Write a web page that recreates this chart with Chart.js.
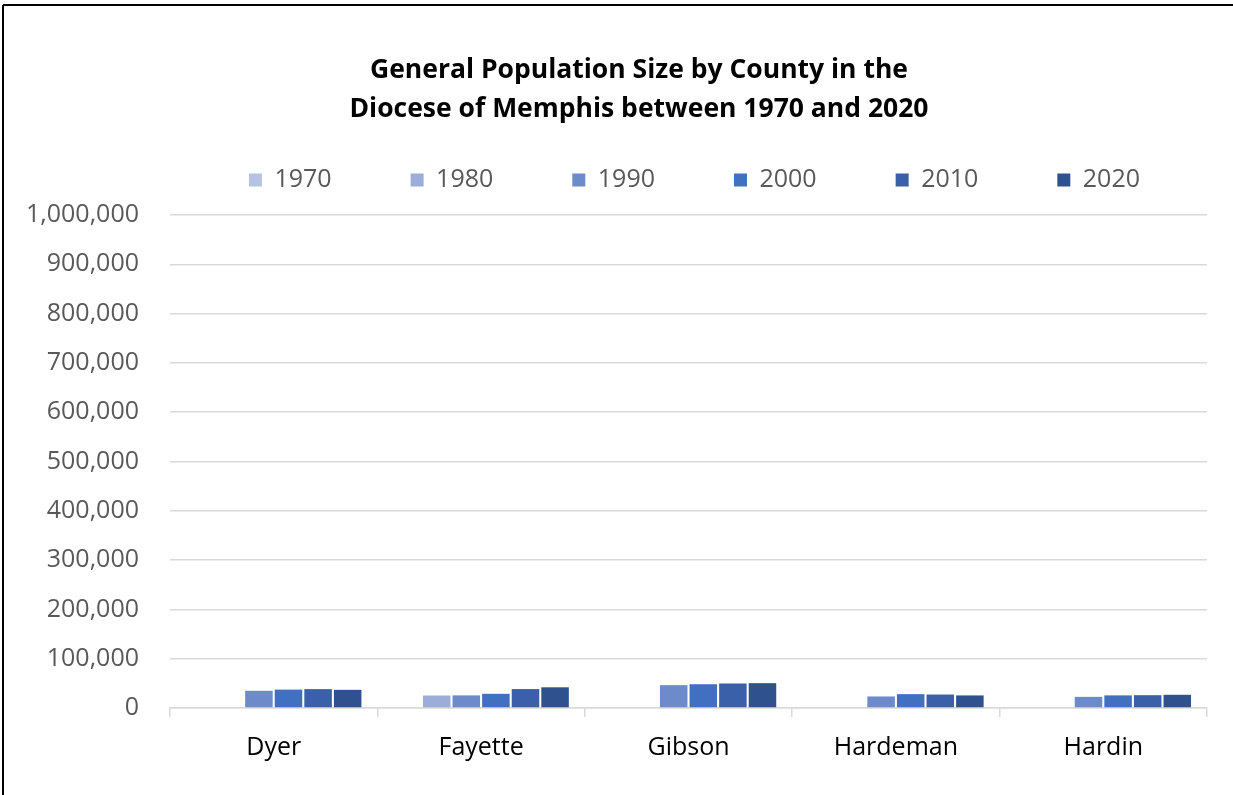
<!DOCTYPE html>
<html><head><meta charset="utf-8">
<script src="https://cdn.jsdelivr.net/npm/chart.js@4/dist/chart.umd.min.js"></script>
<style>html,body{margin:0;padding:0;background:#fff;}</style>
</head><body>
<canvas id="c" width="1233" height="795"></canvas>
<script>
const counties = ['Dyer', 'Fayette', 'Gibson', 'Hardeman', 'Hardin'];
const years = ['1970', '1980', '1990', '2000', '2010', '2020'];
const pop1970 = [null, null, null, null, null];
const pop1980 = [null, 25300, null, null, null];
const pop1990 = [34900, 25600, 46300, 23400, 22600];
const pop2000 = [37300, 28800, 48200, 28100, 25600];
const pop2010 = [38300, 38400, 49700, 27300, 26000];
const pop2020 = [36800, 42000, 50400, 25500, 26800];
const yearColors = ['#B7C3E3', '#9DADDA', '#6D8ACB', '#4270C0', '#3960A8', '#2F528F'];
const titleLines = ['General Population Size by County in the', 'Diocese of Memphis between 1970 and 2020'];

const series = [pop1970, pop1980, pop1990, pop2000, pop2010, pop2020];
const datasets = years.map((y, i) => ({
  label: y,
  data: series[i],
  backgroundColor: yearColors[i],
  borderWidth: 0,
  categoryPercentage: 0.856,
  barPercentage: 0.93
}));

const framePlugin = {
  id: 'frame',
  afterLayout(chart) {
    const t = chart.titleBlock;
    if (t) { t.left = 59; }
  },
  beforeDraw(chart) {
    const ctx = chart.ctx;
    ctx.save();
    ctx.fillStyle = '#fff';
    ctx.fillRect(0, 0, chart.width, chart.height);
    ctx.strokeStyle = '#000';
    ctx.lineWidth = 2;
    ctx.beginPath();
    ctx.moveTo(3, 5); ctx.lineTo(chart.width, 5);
    ctx.moveTo(3, 5); ctx.lineTo(3, chart.height);
    ctx.stroke();
    ctx.restore();
  }
};

new Chart(document.getElementById('c'), {
  type: 'bar',
  data: { labels: counties, datasets },
  plugins: [framePlugin],
  options: {
    responsive: false,
    animation: false,
    devicePixelRatio: 1,
    layout: { padding: { left: 26, right: 14, top: 0, bottom: 16 } },
    plugins: {
      title: {
        display: true,
        text: titleLines,
        color: '#000',
        font: { family: 'Open Sans', size: 26.5, weight: 'bold', lineHeight: 1.47 },
        padding: { top: 51, bottom: -40.4 }
      },
      legend: {
        position: 'top',
        align: 'end',
        labels: {
          boxWidth: 13, boxHeight: 13, padding: 79,
          color: '#595959',
          font: { family: 'Open Sans', size: 25 }
        }
      },
      tooltip: { enabled: false }
    },
    scales: {
      xTop: {
        type: 'category', axis: 'x', position: 'top', display: true,
        grid: { display: false }, border: { display: false }, ticks: { display: false },
        afterFit(s) { s.height = 12.5; }
      },
      x: {
        grid: { display: true, drawOnChartArea: false, drawTicks: true, tickLength: 9, color: '#D9D9D9', lineWidth: 1.5, offset: true },
        border: { display: true, color: '#D9D9D9', width: 1.5 },
        ticks: { color: '#000', font: { family: 'Open Sans', size: 25 }, padding: 16 }
      },
      y: {
        min: 0, max: 1000000,
        ticks: {
          stepSize: 100000, color: '#595959', padding: 31,
          font: { family: 'Open Sans', size: 25 },
          callback: v => v.toLocaleString('en-US')
        },
        grid: { color: '#D9D9D9', lineWidth: 1.5, drawTicks: false },
        border: { display: false },
        afterFit(s) { s.width = 144; }
      },
      yRight: {
        type: 'linear', axis: 'y', position: 'right', display: true,
        grid: { display: false }, border: { display: false }, ticks: { display: false },
        afterFit(s) { s.width = 12; }
      }
    }
  }
});
</script>
</body></html>
